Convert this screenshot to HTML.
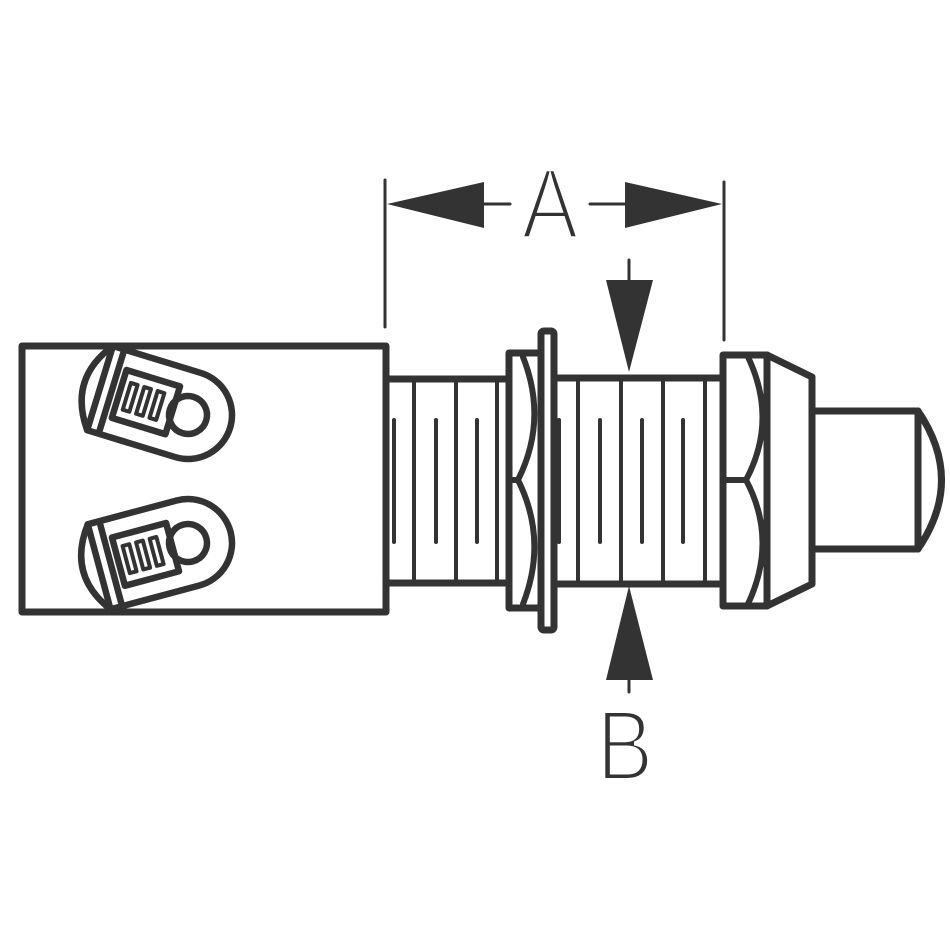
<!DOCTYPE html>
<html><head><style>html,body{margin:0;padding:0;background:#fff}svg{display:block}</style></head>
<body>
<svg width="950" height="950" viewBox="0 0 950 950" xmlns="http://www.w3.org/2000/svg">
<rect width="950" height="950" fill="#fff"/>
<g stroke="#333" fill="none" stroke-linecap="round" stroke-linejoin="round">
<line x1="385" y1="180" x2="385" y2="327" stroke-width="3"/>
<line x1="724" y1="182" x2="724" y2="340" stroke-width="3"/>
<line x1="484" y1="204" x2="510" y2="204" stroke-width="3"/>
<line x1="590" y1="204" x2="625" y2="204" stroke-width="3"/>
<polygon points="387,204 484,182 484,228" fill="#333" stroke="none"/>
<polygon points="722,204 625,182 625,228" fill="#333" stroke="none"/>
<line x1="629" y1="260" x2="629" y2="282" stroke-width="3"/>
<polygon points="606,280 653,280 629,372" fill="#333" stroke="none"/>
<line x1="629" y1="678" x2="629" y2="692" stroke-width="3"/>
<polygon points="606,680 653,680 629,586" fill="#333" stroke="none"/>

<rect x="22" y="346" width="364" height="266" stroke-width="7"/>
<line x1="386" y1="379" x2="508" y2="379" stroke-width="7"/>
<line x1="386" y1="583" x2="508" y2="583" stroke-width="7"/>
<g stroke-width="4">
<line x1="414" y1="382" x2="414" y2="580"/><line x1="456" y1="382" x2="456" y2="580"/><line x1="497" y1="382" x2="497" y2="580"/>
<line x1="394" y1="420" x2="394" y2="542"/><line x1="436" y1="420" x2="436" y2="542"/><line x1="477" y1="420" x2="477" y2="542"/>
</g>
<rect x="509" y="353" width="32" height="255" stroke-width="7"/>
<path d="M509 480 L518 480 Q548 420 523 357 M518 480 Q548 540 523 604" stroke-width="6"/>
<rect x="541" y="331" width="13" height="299" rx="3" stroke-width="7"/>
<line x1="555" y1="378" x2="722" y2="378" stroke-width="7"/>
<line x1="555" y1="584" x2="722" y2="584" stroke-width="7"/>
<g stroke-width="4">
<line x1="578" y1="381" x2="578" y2="581"/><line x1="621" y1="381" x2="621" y2="581"/><line x1="663" y1="381" x2="663" y2="581"/><line x1="705" y1="381" x2="705" y2="581"/>
<line x1="559" y1="420" x2="559" y2="542"/><line x1="600" y1="420" x2="600" y2="542"/><line x1="642" y1="420" x2="642" y2="542"/><line x1="683" y1="420" x2="683" y2="542"/>
</g>
<rect x="723" y="355" width="44" height="251" stroke-width="7"/>
<path d="M723 480 L746 480 Q778 420 748 357 M746 480 Q778 540 748 604" stroke-width="6"/>
<path d="M767 355 L812 377 L812 584 L767 606" stroke-width="7"/>
<path d="M812 411 L918 411 L918 549 L812 549" stroke-width="7"/>
<path d="M918 411 Q965 480 918 549" stroke-width="7"/>

<g transform="translate(188,415) rotate(17)" stroke-width="6.5">
<path d="M-92 -44 L0 -44 A44 44 0 0 1 0 44 L-92 44 Q-125 0 -92 -44 Z"/>
<line x1="-92" y1="-44" x2="-92" y2="44"/>
<line x1="-80" y1="-40" x2="-80" y2="40"/>
<rect x="-72" y="-25" width="56" height="50"/>
<circle cx="0" cy="0" r="19"/>
<g stroke-width="4"><rect x="-64" y="-14" width="7" height="28"/><rect x="-50" y="-14" width="7" height="28"/><rect x="-36" y="-14" width="7" height="28"/></g>
</g>
<g transform="translate(188,543) rotate(-15)" stroke-width="6.5">
<path d="M-92 -44 L0 -44 A44 44 0 0 1 0 44 L-92 44 Q-125 0 -92 -44 Z"/>
<line x1="-92" y1="-44" x2="-92" y2="44"/>
<line x1="-80" y1="-40" x2="-80" y2="40"/>
<rect x="-72" y="-25" width="56" height="50"/>
<circle cx="0" cy="0" r="19"/>
<g stroke-width="4"><rect x="-64" y="-14" width="7" height="28"/><rect x="-50" y="-14" width="7" height="28"/><rect x="-36" y="-14" width="7" height="28"/></g>
</g>
</g>
<text x="0" y="0" font-family="Liberation Sans, sans-serif" font-size="100" fill="#333" stroke="#fff" stroke-width="4" text-anchor="middle" transform="translate(550,238) scale(0.85,1)">A</text>
<text x="0" y="0" font-family="Liberation Sans, sans-serif" font-size="100" fill="#333" stroke="#fff" stroke-width="4" text-anchor="middle" transform="translate(625,780) scale(0.85,1)">B</text>
</svg>
</body></html>
